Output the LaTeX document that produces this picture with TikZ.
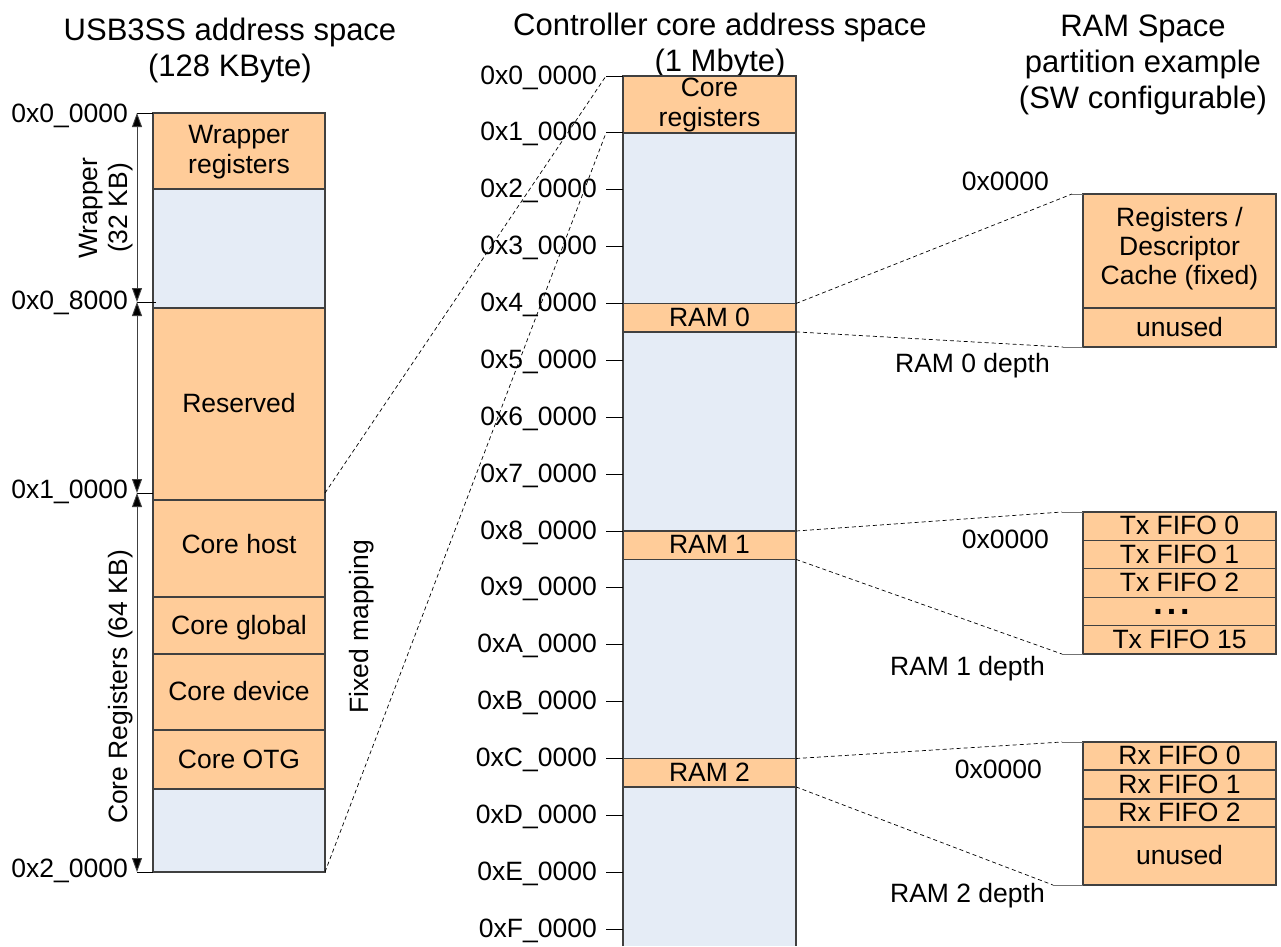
\documentclass[tikz,border=0pt]{standalone}
\usepackage{fontspec}
\setmainfont{Liberation Sans}
\usetikzlibrary{arrows.meta}
\definecolor{regfill}{HTML}{FFCC99}
\definecolor{gapfill}{HTML}{E5ECF6}
\definecolor{edge}{HTML}{404040}
\begin{document}
\begin{tikzpicture}[x=1pt,y=-1pt,
  every node/.style={inner sep=0pt, font=\fontsize{26.5}{30}\selectfont},
  title/.style={anchor=north, align=center, font=\fontsize{31}{36}\selectfont},
  used/.style={fill=regfill, draw=edge, line width=1.2pt},
  free/.style={fill=gapfill, draw=edge, line width=1.2pt},
  inbox/.style={anchor=base, yshift=-8.5pt},
  addr/.style={anchor=base east, yshift=-8pt},
  lab/.style={anchor=base east},
  tick/.style={draw=black, line width=0.9pt},
  stub/.style={draw=black!55, line width=1pt},
  map/.style={draw=black, line width=0.7pt, dash pattern=on 4pt off 3pt},
  span/.style={draw=edge, line width=0.9pt,
    {Triangle[length=14pt,width=10pt,fill=black]}-{Triangle[length=14pt,width=10pt,fill=black]}},
]
\useasboundingbox (0,0) rectangle (1281,946);

% ---------- titles ----------
\node[title] (t-usb)  at (230,18)  {USB3SS address space\\(128 KByte)};
\node[title] (t-core) at (720,13)  {Controller core address space\\(1 Mbyte)};
\node[title] (t-ram)  at (1143,15) {RAM Space\\partition example\\(SW configurable)};

% ---------- USB3SS address space (left column) ----------
\filldraw[used] (153,113) rectangle (325,189);
\filldraw[free] (153,189) rectangle (325,308);
\filldraw[used] (153,308) rectangle (325,500);
\filldraw[used] (153,500) rectangle (325,597);
\filldraw[used] (153,597) rectangle (325,654);
\filldraw[used] (153,654) rectangle (325,730);
\filldraw[used] (153,730) rectangle (325,789);
\filldraw[free] (153,789) rectangle (325,872);

\node[align=center] (wrapreg) at (239,152) {Wrapper\\registers};
\node[inbox] (reserved)   at (239,404) {Reserved};
\node[inbox, yshift=3pt] (corehost) at (239,548) {Core host};
\node[inbox] (coreglobal) at (239,625.5) {Core global};
\node[inbox] (coredevice) at (239,692) {Core device};
\node[inbox] (coreotg)    at (239,759.5) {Core OTG};

% boundary ticks and size spans
\coordinate (a0) at (137,113);
\coordinate (a1) at (137,302);
\coordinate (a2) at (137,493);
\coordinate (a3) at (137,872);
\draw[tick] (a0) -- (153,113);
\draw[tick] (a1) -- (156,302);
\draw[tick] (a2) -- (153,493);
\draw[tick] (a3) -- (153,872);
\draw[span] (a0) -- (a1);
\draw[span] (a1) -- (a2);
\draw[span] (a2) -- (a3);

\node[lab] (la0) at (128,122) {0x0\_0000};
\node[lab] (la1) at (128,309) {0x0\_8000};
\node[lab] (la2) at (128,498) {0x1\_0000};
\node[lab] (la3) at (128,877) {0x2\_0000};

\node[rotate=90, align=center] (wrapsize) at (106,208) {Wrapper\\(32 KB)};
\node[rotate=90] (coresize) at (121,687) {Core Registers (64 KB)};
\node[rotate=90] (fixedmap) at (362,627) {Fixed mapping};

% ---------- controller core address space (middle column) ----------
\fill[gapfill] (623,76) rectangle (796,946);
\filldraw[used] (623,76) rectangle (796,132.9);
\filldraw[used] (623,303.5) rectangle (796,331.9);
\filldraw[used] (623,531) rectangle (796,559.4);
\filldraw[used] (623,758.5) rectangle (796,786.9);
\draw[edge, line width=1.2pt] (623,946) -- (623,76) -- (796,76) -- (796,946);

\node[align=center] (coreregs) at (709.5,105) {Core\\registers};
\node[inbox] (ram0) at (709.5,317.7) {RAM 0};
\node[inbox] (ram1) at (709.5,545.2) {RAM 1};
\node[inbox] (ram2) at (709.5,772.7) {RAM 2};

\foreach \i/\h in {0/0,1/1,2/2,3/3,4/4,5/5,6/6,7/7,8/8,9/9,10/A,11/B,12/C,13/D,14/E,15/F} {
  \coordinate (m\i) at (606, 76+56.875*\i);
  \draw[tick] (m\i) -- ++(17,0);
  \node[addr] (ma\i) at (597, 76+56.875*\i) {0x\h\_0000};
}

% fixed mapping of the core register window
\coordinate (lmaptop) at (325,493);
\coordinate (lmapbot) at (325,872);
\draw[map] (lmaptop) -- (m0);
\draw[map] (lmapbot) -- (m1);

% ---------- RAM partition examples (right column) ----------
% RAM 0
\filldraw[used] (1083,194) rectangle (1276,308);
\filldraw[used] (1083,308) rectangle (1276,347);
\node[align=center, font=\fontsize{26.5}{29}\selectfont] (r0regs) at (1179.5,249) {Registers /\\Descriptor\\Cache (fixed)};
\node[inbox] (r0unused) at (1179.5,327.5) {unused};
\coordinate (d0a) at (1072,194);
\coordinate (d0b) at (1063,347);
\draw[stub] (d0a) -- (1083,194);
\draw[stub] (d0b) -- (1083,347);
\node[lab] (r0start) at (1049,190) {0x0000};
\node[lab] (r0depth) at (1050,372) {RAM 0 depth};

% RAM 1
\foreach \k in {0,...,4} {
  \filldraw[used] (1083,512+28.4*\k) rectangle (1276,540.4+28.4*\k);
}
\node[inbox] (tx0)  at (1179.5,526.2) {Tx FIFO 0};
\node[inbox] (tx1)  at (1179.5,554.6) {Tx FIFO 1};
\node[inbox] (tx2)  at (1179.5,583.0) {Tx FIFO 2};
\node[anchor=base, font=\fontsize{34}{34}\selectfont\bfseries] (txdots) at (1171.5,614) {.\kern4pt.\kern4pt.};
\node[inbox] (tx15) at (1179.5,639.8) {Tx FIFO 15};
\coordinate (d1a) at (1062,512);
\coordinate (d1b) at (1062,654);
\draw[stub] (d1a) -- (1083,512);
\draw[stub] (d1b) -- (1083,654);
\node[lab] (r1start) at (1049,548) {0x0000};
\node[lab] (r1depth) at (1045,675) {RAM 1 depth};

% RAM 2
\filldraw[used] (1083,742) rectangle (1276,770);
\filldraw[used] (1083,770) rectangle (1276,799);
\filldraw[used] (1083,799) rectangle (1276,827);
\filldraw[used] (1083,827) rectangle (1276,885);
\node[inbox] (rx0) at (1179.5,756) {Rx FIFO 0};
\node[inbox] (rx1) at (1179.5,784.5) {Rx FIFO 1};
\node[inbox] (rx2) at (1179.5,813) {Rx FIFO 2};
\node[inbox] (r2unused) at (1179.5,856) {unused};
\coordinate (d2a) at (1062,742);
\coordinate (d2b) at (1053,885);
\draw[stub] (d2a) -- (1083,742);
\draw[stub] (d2b) -- (1083,885);
\node[lab] (r2start) at (1042,778) {0x0000};
\node[lab] (r2depth) at (1045,902) {RAM 2 depth};

% RAM windows expanded to their partitions
\coordinate (w0a) at (796,303.5);
\coordinate (w0b) at (796,331.9);
\coordinate (w1a) at (796,531);
\coordinate (w1b) at (796,559.4);
\coordinate (w2a) at (796,758.5);
\coordinate (w2b) at (796,786.9);
\draw[map] (w0a) -- (d0a);
\draw[map] (w0b) -- (d0b);
\draw[map] (w1a) -- (d1a);
\draw[map] (w1b) -- (d1b);
\draw[map] (w2a) -- (d2a);
\draw[map] (w2b) -- (d2b);
\end{tikzpicture}
\end{document}
